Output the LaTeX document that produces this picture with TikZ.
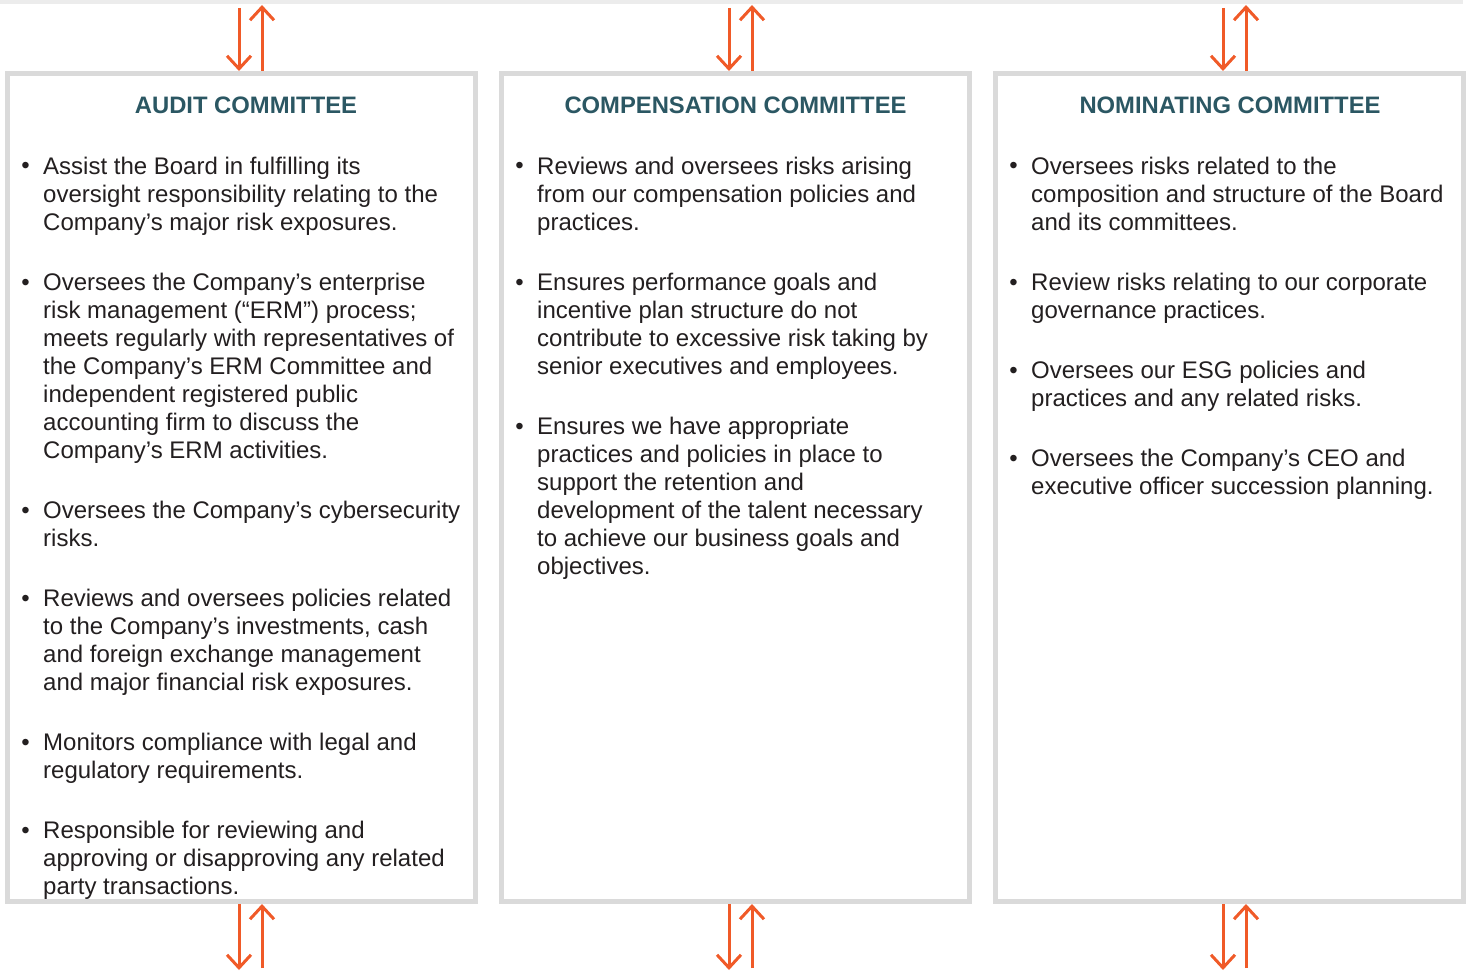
\documentclass[tikz,border=0pt]{standalone}
\usepackage{fontspec}
\setmainfont{Liberation Sans}
\usetikzlibrary{arrows.meta}
\definecolor{arrowc}{HTML}{F05A28}
\definecolor{boxgray}{HTML}{DADADA}
\definecolor{bandgray}{HTML}{ECECEC}
\definecolor{titlec}{HTML}{2B5763}
\definecolor{textc}{HTML}{231F20}
\tikzset{
  box/.style={draw=boxgray, line width=5pt, fill=white, minimum width=468pt, minimum height=828pt, inner sep=0pt},
  arr/.style={draw=arrowc, line width=3pt, -{Straight Barb[length=13pt,width=24pt]}},
  ttl/.style={text=titlec, font=\bfseries\fontsize{23.8}{28}\selectfont, inner sep=0pt, anchor=base},
  itm/.style={text=textc, font=\fontsize{24}{28}\selectfont, inner sep=0pt, anchor=base west, align=left},
  bul/.style={text=textc, font=\fontsize{24}{28}\selectfont, inner sep=0pt, anchor=base},
}
\begin{document}
\begin{tikzpicture}[x=1pt,y=-1pt]
\useasboundingbox (0,0) rectangle (1468,971);
\fill[bandgray] (0,0) rectangle (1463,4.5);

% boxes
\node[box] (audit) at (241.5,487.5) {};
\node[box] (comp) at (735.5,487.5) {};
\node[box] (nom) at (1229.5,487.5) {};

% arrows to and from the boxes
\foreach \b/\c/\d in {audit/241.5/-2.5, comp/735.5/-6.5, nom/1229.5/-6.5}{
  \pgfmathsetmacro\u{\d+23}
  \coordinate (\b-td) at (\c+\d,8);
  \coordinate (\b-tu) at (\c+\u,5);
  \coordinate (\b-bd) at (\c+\d,970);
  \coordinate (\b-bu) at (\c+\u,968);
  \draw[arr] (\b-td) -- ([xshift=\d pt]\b.north);
  \draw[arr] ([xshift=\u pt]\b.north) -- (\b-tu);
  \draw[arr] ([xshift=\d pt]\b.south) -- (\b-bd);
  \draw[arr] (\b-bu) -- ([xshift=\u pt]\b.south);
}

% titles
\node[ttl] (t1) at (246,113.5) {AUDIT COMMITTEE};
\node[ttl] (t2) at (735.5,113.5) {COMPENSATION COMMITTEE};
\node[ttl] (t3) at (1230,113.5) {NOMINATING COMMITTEE};

% column 1 (item nodes are placed at the baseline of their last line)
\node[bul] (a1b) at (25.5,174) {•};
\node[itm] (a1) at (43,230) {Assist the Board in fulfilling its\\oversight responsibility relating to the\\Company’s major risk exposures.};
\node[bul] (a2b) at (25.5,290) {•};
\node[itm] (a2) at (43,458) {Oversees the Company’s enterprise\\risk management (“ERM”) process;\\meets regularly with representatives of\\the Company’s ERM Committee and\\independent registered public\\accounting firm to discuss the\\Company’s ERM activities.};
\node[bul] (a3b) at (25.5,518) {•};
\node[itm] (a3) at (43,546) {Oversees the Company’s cybersecurity\\risks.};
\node[bul] (a4b) at (25.5,606) {•};
\node[itm] (a4) at (43,690) {Reviews and oversees policies related\\to the Company’s investments, cash\\and foreign exchange management\\and major financial risk exposures.};
\node[bul] (a5b) at (25.5,750) {•};
\node[itm] (a5) at (43,778) {Monitors compliance with legal and\\regulatory requirements.};
\node[bul] (a6b) at (25.5,838) {•};
\node[itm] (a6) at (43,894) {Responsible for reviewing and\\approving or disapproving any related\\party transactions.};

% column 2
\node[bul] (c1b) at (519.5,174) {•};
\node[itm] (c1) at (537,230) {Reviews and oversees risks arising\\from our compensation policies and\\practices.};
\node[bul] (c2b) at (519.5,290) {•};
\node[itm] (c2) at (537,374) {Ensures performance goals and\\incentive plan structure do not\\contribute to excessive risk taking by\\senior executives and employees.};
\node[bul] (c3b) at (519.5,434) {•};
\node[itm] (c3) at (537,574) {Ensures we have appropriate\\practices and policies in place to\\support the retention and\\development of the talent necessary\\to achieve our business goals and\\objectives.};

% column 3
\node[bul] (n1b) at (1013.5,174) {•};
\node[itm] (n1) at (1031,230) {Oversees risks related to the\\composition and structure of the Board\\and its committees.};
\node[bul] (n2b) at (1013.5,290) {•};
\node[itm] (n2) at (1031,318) {Review risks relating to our corporate\\governance practices.};
\node[bul] (n3b) at (1013.5,378) {•};
\node[itm] (n3) at (1031,406) {Oversees our ESG policies and\\practices and any related risks.};
\node[bul] (n4b) at (1013.5,466) {•};
\node[itm] (n4) at (1031,494) {Oversees the Company’s CEO and\\executive officer succession planning.};
\end{tikzpicture}
\end{document}
